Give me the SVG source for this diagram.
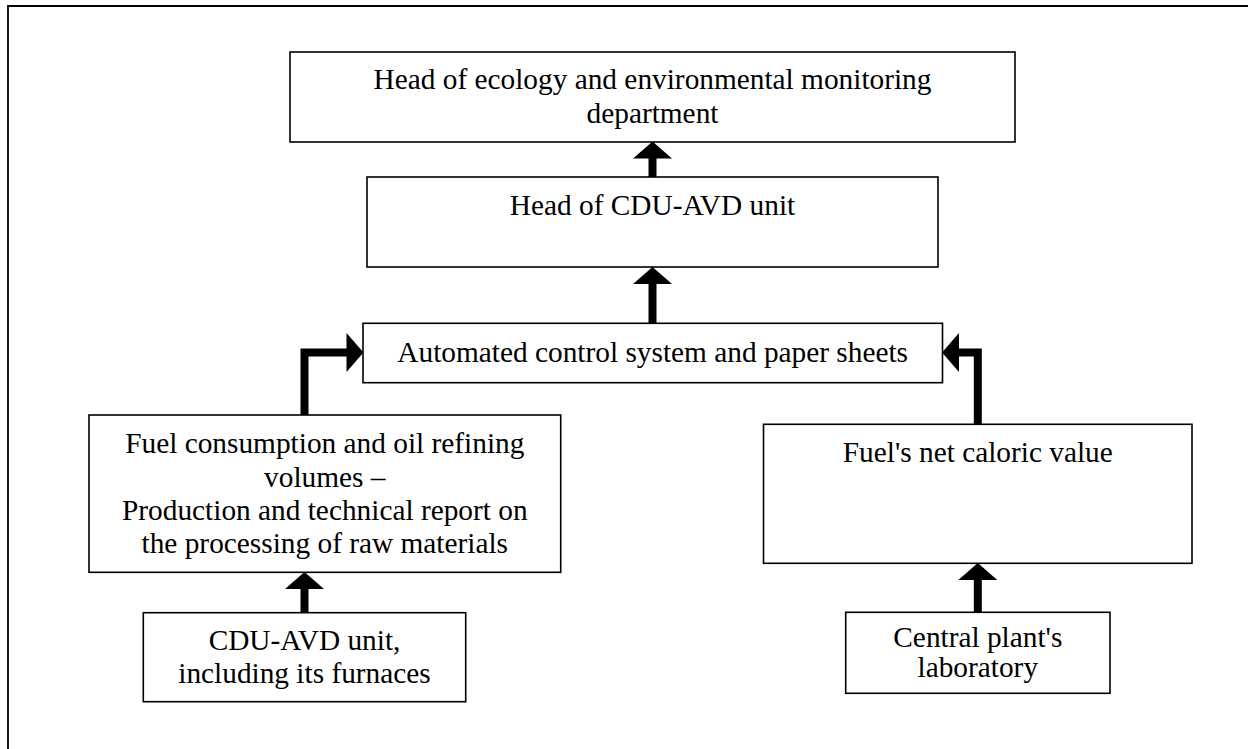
<svg xmlns="http://www.w3.org/2000/svg" width="1248" height="749" viewBox="0 0 1248 749">
<style>
.box{fill:#fff;stroke:#000;stroke-width:1.6}
.t{font-family:"Liberation Serif","Times New Roman",serif;font-size:29.33px;fill:#000;text-anchor:middle}
.c{fill:none;stroke:#000;stroke-width:8;stroke-linejoin:miter}
.frame{fill:none;stroke:#000;stroke-width:1.8}
</style>
<defs>
<marker id="ah" markerUnits="userSpaceOnUse" markerWidth="18" markerHeight="40" viewBox="0 -20 17 40" refX="0" refY="0" orient="auto" overflow="visible">
<path d="M-0.5,-19.5 L16.5,0 L-0.5,19.5 Z" fill="#000"/>
</marker>
</defs>
<rect width="1248" height="749" fill="#fff"/>
<path class="frame" d="M8,749 V6 H1248"/>
<g id="connectors">
<path class="c" d="M652.5,177 V158" marker-end="url(#ah)"/>
<path class="c" d="M652.5,323 V283.5" marker-end="url(#ah)"/>
<path class="c" d="M304.5,415 V352.5 H347" marker-end="url(#ah)"/>
<path class="c" d="M977.8,424 V352.5 H958.5" marker-end="url(#ah)"/>
<path class="c" d="M304.5,613 V588.5" marker-end="url(#ah)"/>
<path class="c" d="M977.8,612 V579.5" marker-end="url(#ah)"/>
</g>
<g id="n1">
<rect class="box" x="290" y="52" width="725" height="90"/>
<text class="t" x="652.5" y="89.3">Head of ecology and environmental monitoring</text>
<text class="t" x="652.5" y="123.3">department</text>
</g>
<g id="n2">
<rect class="box" x="367" y="177" width="571" height="90"/>
<text class="t" x="652.5" y="215">Head of CDU-AVD unit</text>
</g>
<g id="n3">
<rect class="box" x="363" y="323.3" width="579.5" height="59.4"/>
<text class="t" x="652.7" y="361.7">Automated control system and paper sheets</text>
</g>
<g id="n4">
<rect class="box" x="89" y="415" width="471.7" height="157.3"/>
<text class="t" x="324.8" y="453.3">Fuel consumption and oil refining</text>
<text class="t" x="324.8" y="486.5">volumes –</text>
<text class="t" x="324.8" y="519.8">Production and technical report on</text>
<text class="t" x="324.8" y="553.3">the processing of raw materials</text>
</g>
<g id="n5">
<rect class="box" x="763.5" y="424.3" width="428.5" height="139"/>
<text class="t" x="977.8" y="461.7">Fuel's net caloric value</text>
</g>
<g id="n6">
<rect class="box" x="143.3" y="612.7" width="322.4" height="89"/>
<text class="t" x="304.5" y="650">CDU-AVD unit,</text>
<text class="t" x="304.5" y="683.3">including its furnaces</text>
</g>
<g id="n7">
<rect class="box" x="845.7" y="612.3" width="264.3" height="81"/>
<text class="t" x="977.8" y="646.7">Central plant's</text>
<text class="t" x="977.8" y="677.3">laboratory</text>
</g>
</svg>
